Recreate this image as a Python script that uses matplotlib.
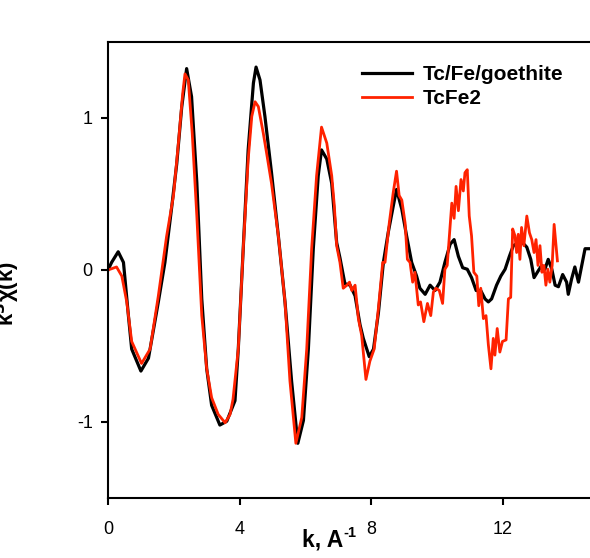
import matplotlib
matplotlib.use("Agg")
import matplotlib.pyplot as plt

plt.rcParams["font.family"] = ["Liberation Sans", "DejaVu Sans"]
plt.rcParams["axes.unicode_minus"] = False

# Tc/Fe/goethite (black)
k_goe = [0.0, 0.11, 0.31, 0.47, 0.62, 0.72, 1.0, 1.23, 1.53, 1.73, 1.94, 2.09, 2.24, 2.39,
         2.54, 2.70, 2.85, 3.0, 3.15, 3.40, 3.61, 3.86, 3.96, 4.11, 4.26, 4.42, 4.50,
         4.62, 4.77, 4.97, 5.18, 5.38, 5.58, 5.77, 5.94, 6.09, 6.24, 6.39, 6.49, 6.65,
         6.80, 6.95, 7.05, 7.20, 7.36, 7.51, 7.66, 7.76, 7.94, 8.07, 8.22, 8.37, 8.52,
         8.67, 8.77, 8.93, 9.08, 9.23, 9.38, 9.48, 9.64, 9.79, 9.94, 10.09, 10.24, 10.40,
         10.52, 10.65, 10.78, 10.92, 11.05, 11.19, 11.33, 11.46, 11.56, 11.66, 11.81,
         11.94, 12.07, 12.20, 12.32, 12.47, 12.60, 12.73, 12.85, 12.95, 13.05, 13.18,
         13.28, 13.38, 13.49, 13.59, 13.69, 13.82, 13.94, 13.99, 14.09, 14.19, 14.30,
         14.40, 14.50, 14.70]
chi_goe = [0.0, 0.05, 0.12, 0.05, -0.30, -0.52, -0.665, -0.58, -0.21, 0.05, 0.42, 0.70,
           1.07, 1.325, 1.14, 0.575, -0.19, -0.65, -0.89, -1.02, -0.995, -0.86, -0.52,
           0.14, 0.79, 1.23, 1.335, 1.25, 1.01, 0.64, 0.22, -0.21, -0.73, -1.14, -0.99,
           -0.52, 0.14, 0.62, 0.79, 0.73, 0.57, 0.18, 0.08, -0.09, -0.10, -0.17, -0.36,
           -0.45, -0.57, -0.52, -0.28, 0.05, 0.25, 0.42, 0.53, 0.40, 0.22, 0.05, -0.04,
           -0.12, -0.16, -0.10, -0.135, -0.08, 0.05, 0.17, 0.20, 0.09, 0.015, 0.005,
           -0.05, -0.135, -0.135, -0.19, -0.21, -0.19, -0.10, -0.04, 0.005, 0.09, 0.16,
           0.18, 0.18, 0.15, 0.07, -0.05, -0.015, 0.03, 0.005, 0.07, 0.005, -0.10, -0.11,
           -0.03, -0.08, -0.16, -0.06, 0.02, -0.08, 0.03, 0.14, 0.14]

# TcFe2 (red)
k_tcfe2 = [0.0, 0.26, 0.42, 0.57, 0.72, 1.02, 1.28, 1.53, 1.78, 1.99, 2.14, 2.27, 2.34,
           2.44, 2.56, 2.70, 2.85, 3.0, 3.15, 3.35, 3.56, 3.71, 3.80, 3.96, 4.11, 4.26,
           4.37, 4.47, 4.57, 4.72, 4.82, 4.97, 5.18, 5.38, 5.53, 5.71, 5.89, 6.04, 6.19,
           6.34, 6.49, 6.65, 6.80, 6.88, 6.95, 7.05, 7.15, 7.26, 7.34, 7.41, 7.51, 7.61,
           7.71, 7.84, 7.96, 8.09, 8.22, 8.35, 8.42, 8.55, 8.67, 8.77, 8.85, 8.93, 9.03,
           9.10, 9.18, 9.26, 9.33, 9.43, 9.50, 9.60, 9.71, 9.81, 9.89, 9.97, 10.07,
           10.17, 10.24, 10.31, 10.40, 10.45, 10.52, 10.58, 10.65, 10.73, 10.80, 10.85,
           10.92, 10.98, 11.05, 11.12, 11.21, 11.27, 11.33, 11.41, 11.49, 11.56, 11.64,
           11.71, 11.76, 11.83, 11.91, 11.99, 12.10, 12.17, 12.24, 12.30, 12.37, 12.42,
           12.47, 12.52, 12.57, 12.64, 12.73, 12.81, 12.88, 12.95, 13.01, 13.07, 13.13,
           13.19, 13.25, 13.31, 13.37, 13.43, 13.50, 13.56, 13.62, 13.66]
chi_tcfe2 = [0.0, 0.02, -0.04, -0.21, -0.47, -0.615, -0.52, -0.17, 0.22, 0.49, 0.835,
             1.16, 1.29, 1.25, 0.90, 0.355, -0.30, -0.65, -0.84, -0.95, -1.005, -0.95,
             -0.85, -0.52, 0.14, 0.725, 1.01, 1.107, 1.075, 0.90, 0.77, 0.57, 0.22,
             -0.21, -0.73, -1.14, -0.97, -0.52, 0.14, 0.62, 0.94, 0.835, 0.62, 0.42,
             0.16, 0.05, -0.12, -0.10, -0.08, -0.135, -0.10, -0.32, -0.43, -0.72, -0.60,
             -0.52, -0.25, 0.05, 0.05, 0.31, 0.51, 0.65, 0.49, 0.46, 0.31, 0.07, 0.05,
             -0.08, -0.015, -0.23, -0.21, -0.34, -0.22, -0.30, -0.145, -0.12, -0.135,
             -0.22, 0.005, 0.03, 0.29, 0.44, 0.34, 0.55, 0.39, 0.595, 0.52, 0.64, 0.66,
             0.355, 0.225, -0.015, -0.04, -0.235, -0.12, -0.32, -0.30, -0.49, -0.65,
             -0.45, -0.56, -0.385, -0.54, -0.47, -0.46, -0.19, -0.18, 0.27, 0.225,
             0.115, 0.235, 0.07, 0.28, 0.16, 0.355, 0.245, 0.20, 0.115, 0.20, 0.03, 0.16,
             -0.015, 0.03, -0.10, 0.005, -0.08, 0.03, 0.30, 0.16, 0.06]

xticks = [0, 4, 8, 12]
yticks = [-1, 0, 1]

fig = plt.figure(figsize=(5.9, 5.58), dpi=100)
# axes runs past the right edge of the figure, as in the original crop
ax = fig.add_axes([108 / 590, 60 / 558, 15 * 32.9 / 590, 456 / 558])

ax.plot(k_goe, chi_goe, color="black", linewidth=2.3, label="Tc/Fe/goethite")
ax.plot(k_tcfe2, chi_tcfe2, color="#ff2200", linewidth=2.0, label="TcFe2")

ax.set_xlim(0, 15)
ax.set_ylim(-1.5, 1.5)
ax.set_xticks(xticks)
ax.set_yticks(yticks)
ax.tick_params(direction="out", length=5, width=1.5, labelsize=13)
ax.tick_params(axis="x", pad=11.5)
ax.tick_params(axis="y", pad=6)
for side in ["left", "bottom", "top", "right"]:
    ax.spines[side].set_linewidth(1.5)

# x label with a plain hyphen in the superscript
fig.text(343 / 590, 1 - 547 / 558, "k, A", ha="right", va="baseline",
         fontsize=16.5, fontweight="bold")
fig.text(343 / 590, 1 - 537 / 558, "-1", ha="left", va="baseline",
         fontsize=10.5, fontweight="bold")

# y label is mostly cut off by the left edge in the original
fig.text(22 / 590, 1 - 294 / 558, "k$^{\\mathbf{3}}$\u03c7(k)", rotation=90,
         ha="right", va="center", fontsize=16, fontweight="bold")

ax.legend(loc="upper left", bbox_to_anchor=(362 / 590, 1 - 65 / 558),
          bbox_transform=fig.transFigure, frameon=False, borderpad=0,
          borderaxespad=0, handlelength=2.4, handletextpad=0.5,
          labelspacing=0.25, prop={"weight": "bold", "size": 15})

fig.savefig("out.png", dpi=100)
